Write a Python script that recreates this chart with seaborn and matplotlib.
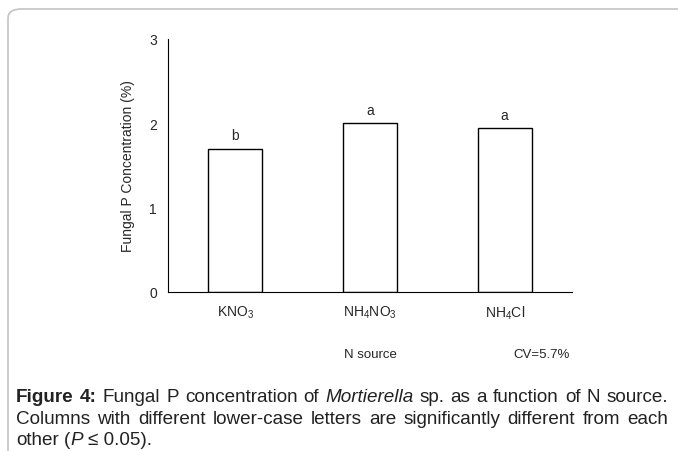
import matplotlib
matplotlib.use("Agg")
import matplotlib.pyplot as plt
from matplotlib.patches import FancyBboxPatch
from matplotlib.transforms import IdentityTransform
import seaborn as sns
import pandas as pd

categories = ["KNO$_3$", "NH$_4$NO$_3$", "NH$_4$Cl"]
values = [1.70, 2.00, 1.94]
letters = ["b", "a", "a"]
y_ticks = [0, 1, 2, 3]
ylabel = "Fungal P Concentration (%)"
xlabel = "N source"
cv_text = "CV=5.7%"

sns.set_style("white")
plt.rcParams["font.family"] = ["Liberation Sans", "DejaVu Sans"]
plt.rcParams["mathtext.fontset"] = "custom"
plt.rcParams["mathtext.rm"] = "Liberation Sans"
plt.rcParams["mathtext.it"] = "Liberation Sans:italic"
plt.rcParams["mathtext.bf"] = "Liberation Sans:bold"

W, H = 678, 452
fig = plt.figure(figsize=(W / 100, H / 100), dpi=100)

# outer rounded frame (only top-left corner visible)
frame = FancyBboxPatch((8 / W, -0.5), 1.5, 1.5 - 10 / H,
                       boxstyle="round,pad=0,rounding_size=0.02",
                       transform=fig.transFigure, facecolor="none",
                       edgecolor="#c4c4c4", linewidth=1.2)
fig.patches.append(frame)

ax = fig.add_axes([168 / W, 1 - 293 / H, (572 - 168) / W, (293 - 40) / H])
df = pd.DataFrame({"cat": categories, "val": values})
sns.barplot(data=df, x="cat", y="val", ax=ax, width=0.4, color="white",
            edgecolor="black", linewidth=1.0, saturation=1)

ax.set_xlim(-0.5, 2.5)
ax.set_ylim(0, 3)
ax.set_yticks(y_ticks)
ax.set_yticklabels([str(t) for t in y_ticks], fontsize=10)
ax.set_xticks(range(len(categories)))
ax.set_xticklabels(categories, fontsize=10)
ax.set_xticks([0.5, 1.5, 2.5], minor=True)
ax.tick_params(axis="x", which="major", length=0, pad=8)
ax.tick_params(axis="x", which="minor", length=4, width=0.8, direction="out", color="black")
ax.tick_params(axis="y", which="major", length=5, width=0.8, direction="out", color="black", pad=3)
ax.set_xlabel("")
ax.set_ylabel(ylabel, fontsize=10, labelpad=10)
for s in ["top", "right"]:
    ax.spines[s].set_visible(False)
for s in ["left", "bottom"]:
    ax.spines[s].set_color("black")
    ax.spines[s].set_linewidth(0.8)

for i, (v, l) in enumerate(zip(values, letters)):
    ax.text(i, v + 0.08, l, ha="center", va="bottom", fontsize=10)

fig.text(370 / W, 1 - 355 / H, xlabel, ha="center", va="center", fontsize=9.5)
fig.text(542 / W, 1 - 355 / H, cv_text, ha="center", va="center", fontsize=9.5)

# caption with justification
cap_family = ["Liberation Sans", "DejaVu Sans"]
lines = [
    ([("Figure", "bold"), ("4:", "bold"), ("Fungal", "n"), ("P", "n"), ("concentration", "n"),
      ("of", "n"), ("Mortierella", "it"), ("sp.", "n"), ("as", "n"), ("a", "n"), ("function", "n"),
      ("of", "n"), ("N", "n"), ("source.", "n")], True, 398),
    ([("Columns", "n"), ("with", "n"), ("different", "n"), ("lower-case", "n"), ("letters", "n"),
      ("are", "n"), ("significantly", "n"), ("different", "n"), ("from", "n"), ("each", "n")], True, 420),
    ([("other", "n"), ("(", "n+"), ("P", "it"), ("\u2264 0.05).", "n")], False, 441),
]
x0, x1 = 16, 668
fig.canvas.draw()
r = fig.canvas.get_renderer()

def mk(txt, style, x, y, size):
    kw = dict(fontsize=size, family=cap_family, va="center", ha="left", color="#222222")
    if style == "bold":
        kw["fontweight"] = "bold"
    if style == "it":
        kw["fontstyle"] = "italic"
    t = fig.text(x, H - y, txt, **kw)
    t.set_transform(IdentityTransform())
    return t

def width_of(txt, style, size):
    t = mk(txt, style, 0, 0, size)
    w = t.get_window_extent(r).width
    t.remove()
    return w

def natural_width(words, size):
    sw = width_of("a a", "n", size) - 2 * width_of("a", "n", size)
    tot = sum(width_of(w, s, size) for w, s in words)
    ngaps = sum(1 for i in range(1, len(words)) if words[i - 1][1] != "n+")
    return tot + ngaps * sw

# choose font size so the longest line fits naturally
base = 14.0
nw = max(natural_width(lines[0][0], base), natural_width(lines[1][0], base))
cap_size = min(base, base * (x1 - x0) / nw * 0.99)
sw = width_of("a a", "n", cap_size) - 2 * width_of("a", "n", cap_size)

for words, justify, y in lines:
    texts = [mk(w, s, 0, y, cap_size) for w, s in words]
    widths = [t.get_window_extent(r).width for t in texts]
    gaps_idx = [i for i in range(1, len(words)) if words[i - 1][1] != "n+"]
    if justify and gaps_idx:
        gap = (x1 - x0 - sum(widths)) / len(gaps_idx)
    else:
        gap = sw
    x = x0
    for i, (t, w) in enumerate(zip(texts, widths)):
        if i > 0 and i in gaps_idx:
            x += gap
        t.set_x(x)
        x += w

fig.savefig("out.png", dpi=100)
